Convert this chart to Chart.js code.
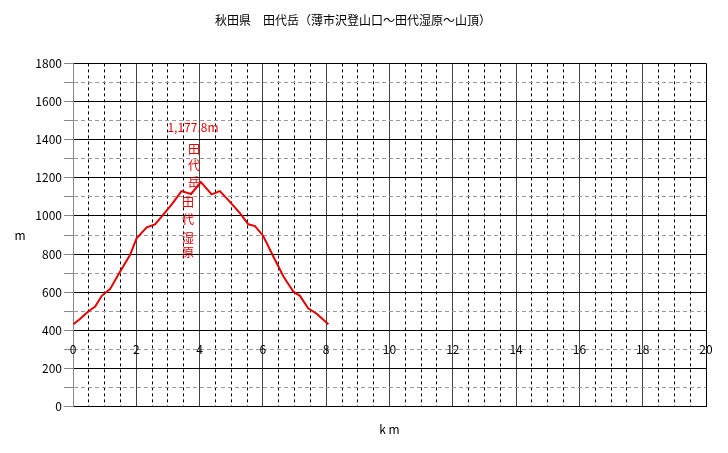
<!DOCTYPE html>
<html>
<head>
<meta charset="utf-8">
<script src="https://cdn.jsdelivr.net/npm/chart.js@4/dist/chart.umd.min.js"></script>
<style>
  body { margin: 0; background: #fff; }
  #wrap { width: 728px; height: 453px; }
</style>
</head>
<body>
<div id="wrap"><canvas id="profile"></canvas></div>
<script>
// 距離 (km) と標高 (m)
const distKm = [0.01, 0.22, 0.48, 0.70, 0.91, 1.17, 1.43, 1.80, 2.01, 2.33, 2.59, 2.80, 3.12, 3.43, 3.73, 4.04,
                4.38, 4.64, 4.96, 5.28, 5.54, 5.75, 6.01, 6.33, 6.65, 6.96, 7.17, 7.43, 7.70, 8.07];
const elevM = [432, 459, 499, 525, 581, 616, 691, 795, 883, 940, 956, 996, 1061, 1130, 1115, 1178,
               1113, 1130, 1074, 1013, 956, 947, 895, 787, 682, 603, 581, 516, 487, 432];

const xTickLabels = [0, 2, 4, 6, 8, 10, 12, 14, 16, 18, 20];
const yTickLabels = [0, 200, 400, 600, 800, 1000, 1200, 1400, 1600, 1800];

const titleText = "秋田県　田代岳（薄市沢登山口～田代湿原～山頂）";
const peakText = "1,177.8m";
const placeA = "田代岳";
const placeB = "田代湿原";

const FONT = '"Noto Sans CJK JP", "DejaVu Sans", sans-serif';
const RED = "rgb(230,0,0)";

// 目盛ラベル・注記を描く
const labelsPlugin = {
    id: "labels",
    afterDraw(chart) {
        const ctx = chart.ctx;
        const xs = chart.scales.x, ys = chart.scales.y;
        const area = chart.chartArea;
        ctx.save();
        ctx.font = "12px " + FONT;
        ctx.fillStyle = "#000";
        ctx.textAlign = "center";
        ctx.textBaseline = "middle";
        // x 目盛は 300m の高さに描かれている
        const ly = ys.getPixelForValue(300);
        xTickLabels.forEach(v => {
            ctx.fillText(String(v), xs.getPixelForValue(v), ly);
        });
        // 縦軸タイトル
        ctx.fillText("m", 20, (area.top + area.bottom) / 2);

        // 山頂注記
        ctx.fillStyle = RED;
        ctx.fillText(peakText, xs.getPixelForValue(3.79), ys.getPixelForValue(1465));
        const colA = [1350, 1266, 1177];
        placeA.split("").forEach((c, i) => {
            ctx.fillText(c, xs.getPixelForValue(3.82), ys.getPixelForValue(colA[i]));
        });
        const colB = [1073, 979, 884, 806];
        placeB.split("").forEach((c, i) => {
            ctx.fillText(c, xs.getPixelForValue(3.63), ys.getPixelForValue(colB[i]));
        });
        ctx.restore();
    }
};

new Chart(document.getElementById("profile"), {
    type: "line",
    data: {
        datasets: [{
            data: distKm.map((d, i) => ({ x: d, y: elevM[i] })),
            borderColor: RED,
            borderWidth: 2,
            pointRadius: 0,
            tension: 0,
            fill: false
        }]
    },
    options: {
        responsive: true,
        maintainAspectRatio: false,
        animation: false,
        layout: { padding: { left: 0, right: 22, top: 0, bottom: 0 } },
        plugins: {
            legend: { display: false },
            tooltip: { enabled: false },
            title: {
                display: true,
                text: titleText,
                color: "#000",
                font: { family: FONT, size: 12, weight: "normal", lineHeight: 1.2 },
                padding: { top: 13, bottom: 36 }
            }
        },
        scales: {
            x: {
                type: "linear",
                min: 0,
                max: 20,
                ticks: { stepSize: 0.5, display: false },
                grid: {
                    drawTicks: false,
                    color: c => {
                        const v = c.tick ? c.tick.value : 0;
                        if (v === 0) return "#888";
                        if (v === 20) return "#000";
                        return v % 2 === 0 ? "#444" : "#000";
                    },
                    lineWidth: 1
                },
                border: {
                    display: false,
                    dash: c => {
                        const v = c.tick ? c.tick.value : 0;
                        return v % 2 === 0 ? [] : [3, 3];
                    }
                },
                title: {
                    display: true,
                    text: "k m",
                    color: "#000",
                    font: { family: FONT, size: 12, lineHeight: 1.2 },
                    padding: { top: 16, bottom: 16 }
                }
            },
            y: {
                min: 0,
                max: 1800,
                afterFit: s => { s.width = 73; },
                ticks: {
                    stepSize: 100,
                    color: "#000",
                    padding: 2,
                    font: { family: FONT, size: 12 },
                    callback: v => yTickLabels.includes(v) ? String(v) : ""
                },
                grid: {
                    drawTicks: true,
                    tickLength: 9,
                    tickColor: "#888",
                    tickBorderDash: [],
                    color: c => {
                        const v = c.tick ? c.tick.value : 0;
                        return v % 200 === 0 ? "#000" : "#999";
                    },
                    lineWidth: 1
                },
                border: {
                    display: true,
                    color: "#888",
                    dash: c => {
                        const v = c.tick ? c.tick.value : 0;
                        return v % 200 === 0 ? [] : [4, 3];
                    }
                }
            }
        }
    },
    plugins: [labelsPlugin]
});
</script>
</body>
</html>
